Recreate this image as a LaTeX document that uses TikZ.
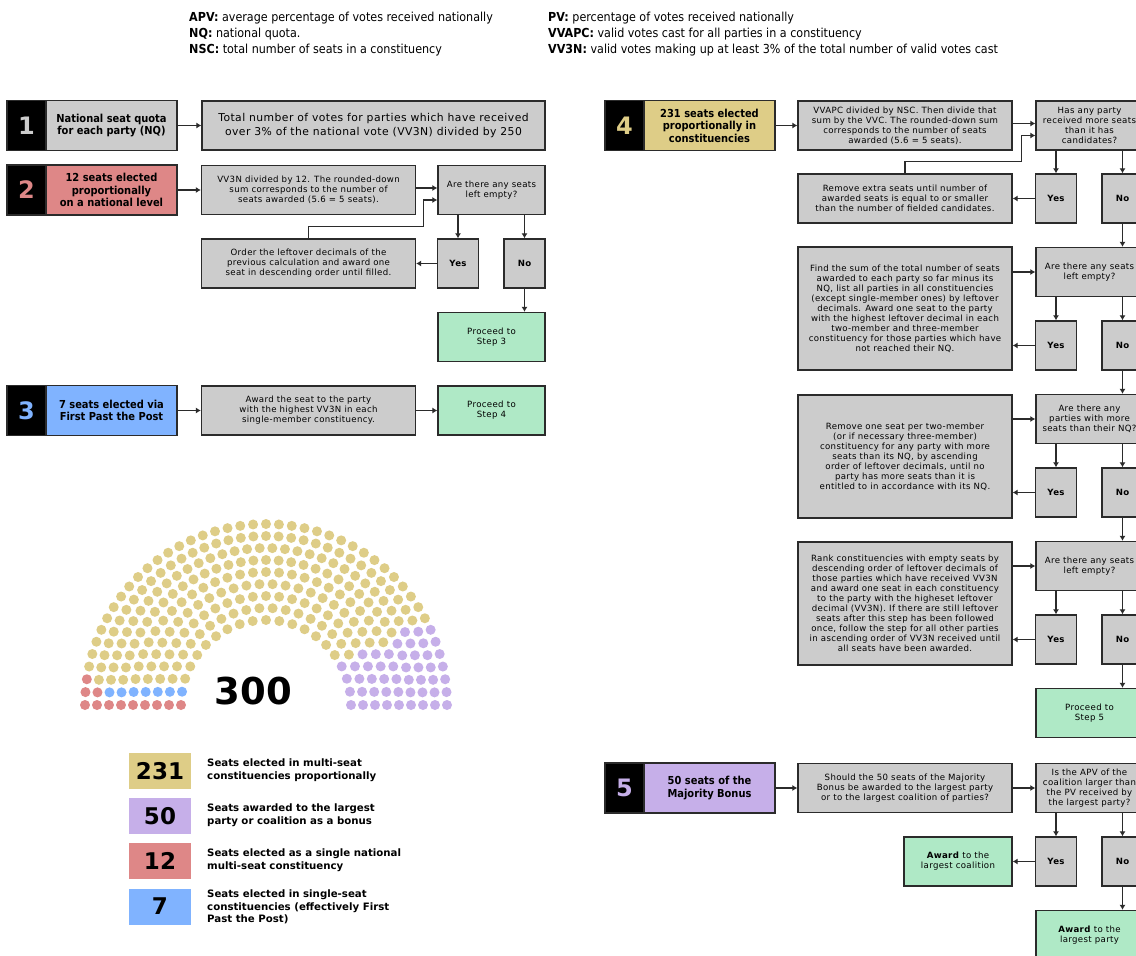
\documentclass[tikz,border=0pt]{standalone}
\usepackage{fontspec}
\setmainfont{DejaVu Sans}
\newfontfamily\narrowfont{DejaVu Sans Condensed}
\newfontfamily\boxfamily{DejaVu Sans}[LetterSpace=4]
\usepackage{xcolor}
\usetikzlibrary{arrows.meta}

\definecolor{boxgray}{HTML}{CCCCCC}
\definecolor{boxgreen}{HTML}{AFE9C6}
\definecolor{seatgold}{HTML}{DECD87}
\definecolor{seatpurple}{HTML}{C6AFE9}
\definecolor{seatred}{HTML}{DE8787}
\definecolor{seatblue}{HTML}{80B3FF}
\definecolor{edgegray}{HTML}{2B2B2B}

\newcommand\steptitlefont{\narrowfont\bfseries\fontsize{11}{12.5}\selectfont}
\newcommand\stepboxfont{\boxfamily\fontsize{8.6}{10}\selectfont}

\begin{document}
\begin{tikzpicture}[x=1pt,y=-1pt]
          \tikzset{
            numbox/.style = { rectangle, draw=edgegray, line width=1.3pt, fill=black,
              minimum width=39pt, minimum height=50pt, inner sep=0pt,
              text=#1, font=\bfseries\fontsize{24}{24}\selectfont },
            titlebox/.style = { rectangle, draw=edgegray, line width=1.3pt, fill=#1,
              minimum width=131pt, minimum height=50pt, inner sep=0pt,
              align=center, font=\steptitlefont },
            textbox/.style = { rectangle, draw=edgegray, line width=1.3pt, fill=boxgray,
              minimum width=214pt, minimum height=49pt, inner sep=0pt,
              align=center, font=\stepboxfont },
            askbox/.style = { textbox, minimum width=107pt },
            ansbox/.style = { textbox, minimum width=41pt, font=\stepboxfont\bfseries },
            gobox/.style = { textbox, minimum width=107pt, fill=boxgreen },
            keybox/.style = { rectangle, fill=#1, minimum width=62pt, minimum height=36pt,
              inner sep=0pt, font=\bfseries\fontsize{23}{23}\selectfont },
            keytext/.style = { anchor=west, align=left, inner sep=0pt,
              font=\bfseries\fontsize{10.2}{12.5}\selectfont },
            abbrev/.style = { anchor=west, inner sep=0pt,
              font=\narrowfont\fontsize{12.4}{14}\selectfont },
            flow/.style = { draw=edgegray, line width=1.3pt, -{Latex[length=5pt,width=6pt]} } }

          \useasboundingbox (0,0) rectangle (1136,956);
          \clip (0,0) rectangle (1136,956);
          \fill[white] (0,0) rectangle (1136,956);

          % abbreviations
          \node[abbrev] (APV) at (189,18) {\textbf{APV:} average percentage of votes received nationally};
          \node[abbrev] (NQ) at (189,34) {\textbf{NQ:} national quota.};
          \node[abbrev] (NSC) at (189,50) {\textbf{NSC:} total number of seats in a constituency};
          \node[abbrev] (PV) at (548,18) {\textbf{PV:} percentage of votes received nationally};
          \node[abbrev] (VVAPC) at (548,34) {\textbf{VVAPC:} valid votes cast for all parties in a constituency};
          \node[abbrev] (VV3N) at (548,50) {\textbf{VV3N:} valid votes making up at least 3\% of the total number of valid votes cast};

          % step 1
          \node[numbox=boxgray] (S1NUM) at (26.5,125.5) {1};
          \node[titlebox=boxgray] (S1TITLE) at (111.5,125.5) {National seat quota\\for each party (NQ)};
          \node[textbox, minimum width=343pt, font=\boxfamily\fontsize{10.8}{14}\selectfont] (S1DESC) at (373.5,125.5)
            {Total number of votes for parties which have received\\over 3\% of the national vote (VV3N) divided by 250};
          \draw[flow] (S1TITLE) -- (S1DESC);

          % step 2
          \node[numbox=seatred] (S2NUM) at (26.5,190) {2};
          \node[titlebox=seatred] (S2TITLE) at (111.5,190) {12 seats elected\\proportionally\\on a national level};
          \node[textbox] (S2DIV) at (308.5,190) {VV3N divided by 12. The rounded-down\\sum corresponds to the number of\\seats awarded (5.6 = 5 seats).};
          \node[askbox] (S2ASK) at (491.5,190) {Are there any seats\\left empty?};
          \node[textbox] (S2ORDER) at (308.5,263.5) {Order the leftover decimals of the\\previous calculation and award one\\seat in descending order until filled.};
          \node[ansbox] (S2YES) at (458,263.5) {Yes};
          \node[ansbox] (S2NO) at (524.5,263.5) {No};
          \node[gobox] (S2GO) at (491.5,337) {Proceed to\\Step 3};
          \draw[flow] (S2TITLE) -- (S2DIV);
          \draw[flow] ([yshift=2pt]S2DIV.east) -- ([yshift=2pt]S2ASK.west);
          \draw[flow] (S2ORDER.north) -- ++(0,-12) -| ([xshift=-14pt,yshift=-10pt]S2ASK.west) -- ([yshift=-10pt]S2ASK.west);
          \draw[flow] (S2YES |- S2ASK.south) -- (S2YES);
          \draw[flow] (S2NO |- S2ASK.south) -- (S2NO);
          \draw[flow] (S2YES) -- (S2ORDER);
          \draw[flow] (S2NO.south) -- (S2NO.south |- S2GO.north);

          % step 3
          \node[numbox=seatblue] (S3NUM) at (26.5,410.5) {3};
          \node[titlebox=seatblue] (S3TITLE) at (111.5,410.5) {7 seats elected via\\First Past the Post};
          \node[textbox] (S3AWARD) at (308.5,410.5) {Award the seat to the party\\with the highest VV3N in each\\single-member constituency.};
          \node[gobox] (S3GO) at (491.5,410.5) {Proceed to\\Step 4};
          \draw[flow] (S3TITLE) -- (S3AWARD);
          \draw[flow] (S3AWARD) -- (S3GO);

          % step 4
          \node[numbox=seatgold] (S4NUM) at (624.5,125.5) {4};
          \node[titlebox=seatgold] (S4TITLE) at (709.5,125.5) {231 seats elected\\proportionally in\\constituencies};
          \node[textbox] (S4DIV) at (905,125.5) {VVAPC divided by NSC. Then divide that\\sum by the VVC. The rounded-down sum\\corresponds to the number of seats\\awarded (5.6 = 5 seats).};
          \node[askbox] (S4ASKA) at (1089.5,125.5) {Has any party\\received more seats\\than it has\\candidates?};
          \node[textbox] (S4REMOVE) at (905,198.5) {Remove extra seats until number of\\awarded seats is equal to or smaller\\than the number of fielded candidates.};
          \node[ansbox] (S4YESA) at (1056,198.5) {Yes};
          \node[ansbox] (S4NOA) at (1122.5,198.5) {No};
          \node[textbox, minimum height=123pt] (S4SUM) at (905,308.5) {Find the sum of the total number of seats\\awarded to each party so far minus its\\NQ, list all parties in all constituencies\\(except single-member ones) by leftover\\decimals. Award one seat to the party\\with the highest leftover decimal in each\\two-member and three-member\\constituency for those parties which have\\not reached their NQ.};
          \node[askbox] (S4ASKB) at (1089.5,272) {Are there any seats\\left empty?};
          \node[ansbox] (S4YESB) at (1056,345.5) {Yes};
          \node[ansbox] (S4NOB) at (1122.5,345.5) {No};
          \node[textbox, minimum height=123pt] (S4CUT) at (905,456.5) {Remove one seat per two-member\\(or if necessary three-member)\\constituency for any party with more\\seats than its NQ, by ascending\\order of leftover decimals, until no\\party has more seats than it is\\entitled to in accordance with its NQ.};
          \node[askbox] (S4ASKC) at (1089.5,419) {Are there any\\parties with more\\seats than their NQ?};
          \node[ansbox] (S4YESC) at (1056,492.5) {Yes};
          \node[ansbox] (S4NOC) at (1122.5,492.5) {No};
          \node[textbox, minimum height=123pt] (S4RANK) at (905,603.5) {Rank constituencies with empty seats by\\descending order of leftover decimals of\\those parties which have received VV3N\\and award one seat in each constituency\\to the party with the higheset leftover\\decimal (VV3N). If there are still leftover\\seats after this step has been followed\\once, follow the step for all other parties\\in ascending order of VV3N received until\\all seats have been awarded.};
          \node[askbox] (S4ASKD) at (1089.5,566) {Are there any seats\\left empty?};
          \node[ansbox] (S4YESD) at (1056,639.5) {Yes};
          \node[ansbox] (S4NOD) at (1122.5,639.5) {No};
          \node[gobox] (S4GO) at (1089.5,713) {Proceed to\\Step 5};

          \draw[flow] (S4TITLE) -- (S4DIV);
          \draw[flow] ([yshift=2pt]S4DIV.east) -- ([yshift=2pt]S4ASKA.west);
          \draw[flow] (S4REMOVE.north) -- ++(0,-12) -| ([xshift=-14pt,yshift=-10pt]S4ASKA.west) -- ([yshift=-10pt]S4ASKA.west);
          \draw[flow] (S4YESA |- S4ASKA.south) -- (S4YESA);
          \draw[flow] (S4NOA |- S4ASKA.south) -- (S4NOA);
          \draw[flow] (S4YESA) -- (S4REMOVE);
          \draw[flow] (S4NOA.south) -- (S4NOA.south |- S4ASKB.north);
          \draw[flow] (S4SUM.east |- S4ASKB.west) -- (S4ASKB.west);
          \draw[flow] (S4YESB |- S4ASKB.south) -- (S4YESB);
          \draw[flow] (S4NOB |- S4ASKB.south) -- (S4NOB);
          \draw[flow] (S4YESB.west) -- (S4YESB.west -| S4SUM.east);
          \draw[flow] (S4NOB.south) -- (S4NOB.south |- S4ASKC.north);
          \draw[flow] (S4CUT.east |- S4ASKC.west) -- (S4ASKC.west);
          \draw[flow] (S4YESC |- S4ASKC.south) -- (S4YESC);
          \draw[flow] (S4NOC |- S4ASKC.south) -- (S4NOC);
          \draw[flow] (S4YESC.west) -- (S4YESC.west -| S4CUT.east);
          \draw[flow] (S4NOC.south) -- (S4NOC.south |- S4ASKD.north);
          \draw[flow] (S4RANK.east |- S4ASKD.west) -- (S4ASKD.west);
          \draw[flow] (S4YESD |- S4ASKD.south) -- (S4YESD);
          \draw[flow] (S4NOD |- S4ASKD.south) -- (S4NOD);
          \draw[flow] (S4YESD.west) -- (S4YESD.west -| S4RANK.east);
          \draw[flow] (S4NOD.south) -- (S4NOD.south |- S4GO.north);

          % step 5
          \node[numbox=seatpurple] (S5NUM) at (624.5,788) {5};
          \node[titlebox=seatpurple] (S5TITLE) at (709.5,788) {50 seats of the\\Majority Bonus};
          \node[textbox] (S5ASK) at (905,788) {Should the 50 seats of the Majority\\Bonus be awarded to the largest party\\or to the largest coalition of parties?};
          \node[askbox] (S5APV) at (1089.5,788) {Is the APV of the\\coalition larger than\\the PV received by\\the largest party?};
          \node[gobox, minimum width=108pt] (S5COAL) at (958,861.5) {\textbf{Award} to the\\largest coalition};
          \node[ansbox] (S5YES) at (1056,861.5) {Yes};
          \node[ansbox] (S5NO) at (1122.5,861.5) {No};
          \node[gobox] (S5PARTY) at (1089.5,935) {\textbf{Award} to the\\largest party};
          \draw[flow] (S5TITLE) -- (S5ASK);
          \draw[flow] (S5ASK) -- (S5APV);
          \draw[flow] (S5YES |- S5APV.south) -- (S5YES);
          \draw[flow] (S5NO |- S5APV.south) -- (S5NO);
          \draw[flow] (S5YES) -- (S5COAL);
          \draw[flow] (S5NO.south) -- (S5NO.south |- S5PARTY.north);

          % hemicycle, 300 seats in 9 rows
          \foreach \n [count=\i] in {21,24,27,30,33,37,40,43,45} {
            \pgfmathsetmacro{\seatrad}{73+12*\i}
            \pgfmathtruncatemacro{\seatlast}{\n-1}
            \foreach \k in {0,...,\seatlast} {
              \pgfmathtruncatemacro{\seatkind}{(\k==0 || (\i==9 && \k<=2) || (\i==8 && \k==1)) ? 1 : ((\k==1) ? 2 : ((180*(\seatlast-\k) <= 28*\seatlast) ? 4 : 3))}
              \ifcase\seatkind\or\def\seatcol{seatred}\or\def\seatcol{seatblue}\or\def\seatcol{seatgold}\or\def\seatcol{seatpurple}\fi
              \fill[\seatcol] ({266+\seatrad*cos(180-180*\k/\seatlast)},{705-\seatrad*sin(180-180*\k/\seatlast)}) circle (5pt);
            }
          }
          \node[font=\bfseries\fontsize{37}{37}\selectfont] (TOTAL) at (253.5,691) {300};

          % key
          \node[keybox=seatgold] (K231) at (160,771) {231};
          \node[keybox=seatpurple] (K50) at (160,816) {50};
          \node[keybox=seatred] (K12) at (160,861) {12};
          \node[keybox=seatblue] (K7) at (160,906.5) {7};
          \node[keytext] (T231) at (207,770) {Seats elected in multi-seat\\constituencies proportionally};
          \node[keytext] (T50) at (207,815) {Seats awarded to the largest\\party or coalition as a bonus};
          \node[keytext] (T12) at (207,860) {Seats elected as a single national\\multi-seat constituency};
          \node[keytext] (T7) at (207,907) {Seats elected in single-seat\\constituencies (effectively First\\Past the Post)};
\end{tikzpicture}
\end{document}
